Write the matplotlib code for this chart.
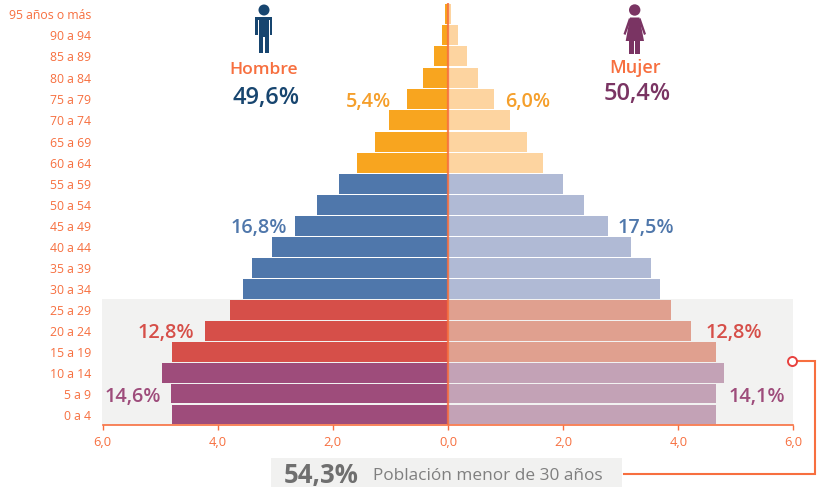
import matplotlib
matplotlib.use("Agg")
import matplotlib.pyplot as plt
from matplotlib.patches import Circle, Polygon, Rectangle

plt.rcParams['font.family'] = ['Open Sans', 'DejaVu Sans']

# ages from youngest to oldest
age_labels = ["0 a 4", "5 a 9", "10 a 14", "15 a 19", "20 a 24", "25 a 29", "30 a 34", "35 a 39",
              "40 a 44", "45 a 49", "50 a 54", "55 a 59", "60 a 64", "65 a 69", "70 a 74", "75 a 79",
              "80 a 84", "85 a 89", "90 a 94", "95 años o más"]
hombres = [4.79, 4.81, 4.97, 4.79, 4.22, 3.78, 3.56, 3.40, 3.06, 2.65,
           2.27, 1.90, 1.58, 1.27, 1.02, 0.71, 0.43, 0.24, 0.11, 0.05]
mujeres = [4.66, 4.66, 4.79, 4.66, 4.22, 3.88, 3.69, 3.53, 3.18, 2.78,
           2.37, 2.00, 1.65, 1.37, 1.08, 0.80, 0.52, 0.33, 0.17, 0.05]
x_ticks = [-6, -4, -2, 0, 2, 4, 6]
x_tick_labels = ["6,0", "4,0", "2,0", "0,0", "2,0", "4,0", "6,0"]

# colours per age group (bars in group, male colour, female colour)
grupos = [(3, "#9e4c7b", "#c3a2b6"), (3, "#d64f49", "#e0a08f"),
          (6, "#4f77ab", "#b0bad5"), (8, "#f8a51f", "#fdd4a0")]

ORANGE = "#f76f3f"
W, H = 820, 491

fig = plt.figure(figsize=(W / 100, H / 100), dpi=100)
ax = fig.add_axes([102.5 / W, 1 - 425 / H, 345.5 * 2 / W, 422 / H])

col_h, col_m = [], []
for n, c1, c2 in grupos:
    col_h += [c1] * n
    col_m += [c2] * n

# the top eight rows are a little taller in the original
pitch = [1.0] * 12 + [1.02] * 8
pos = []
y = 0
for p in pitch:
    pos.append(y + p / 2)
    y += p
alto = [p - 0.06 for p in pitch]

ax.axhspan(0, 6, color="#f2f2f1", lw=0, zorder=0)
ax.barh(pos, [-v for v in hombres], height=alto, color=col_h, zorder=2)
ax.barh(pos, mujeres, height=alto, color=col_m, zorder=2)
ax.axvline(0, color=ORANGE, lw=1.6, alpha=0.85, zorder=3)

ax.set_xlim(-6, 6)
ax.set_ylim(0, y)
ax.set_yticks(pos)
ax.set_yticklabels(age_labels)
ax.set_xticks(x_ticks)
ax.set_xticklabels(x_tick_labels)
ax.tick_params(axis="y", length=0, pad=8, labelsize=8.8, labelcolor=ORANGE)
ax.tick_params(axis="x", length=3.5, width=1, direction="out", color=ORANGE, pad=4.5, labelsize=9.3, labelcolor=ORANGE)
for name, sp in ax.spines.items():
    sp.set_visible(name == "bottom")
ax.spines["bottom"].set_color(ORANGE)
ax.spines["bottom"].set_linewidth(1.2)

# overlay in pixels for the annotations and the icons
ov = fig.add_axes([0, 0, 1, 1], zorder=5)
ov.set_xlim(0, W)
ov.set_ylim(H, 0)
ov.axis("off")

ov.text(264, 70, "Hombre", color=ORANGE, fontsize=12.6, fontweight="semibold", ha="center", va="center")
ov.text(266, 98, "49,6%", color="#17456f", fontsize=17, fontweight="semibold", ha="center", va="center")
ov.text(635, 68, "Mujer", color=ORANGE, fontsize=13, fontweight="semibold", ha="center", va="center")
ov.text(637, 94, "50,4%", color="#7a3463", fontsize=17, fontweight="semibold", ha="center", va="center")

etiquetas = [(369, 102, "5,4%", "#f59f2b"), (528, 102, "6,0%", "#f59f2b"),
             (259, 228, "16,8%", "#4f77ab"), (646, 228, "17,5%", "#4f77ab"),
             (166, 333, "12,8%", "#d64f49"), (734, 333, "12,8%", "#d64f49"),
             (133, 397, "14,6%", "#9e4c7b"), (757, 397, "14,1%", "#9e4c7b")]
for x, y_txt, s, c in etiquetas:
    ov.text(x, y_txt, s, color=c, fontsize=14.3, fontweight="semibold", ha="center", va="center")

# bottom box
ov.add_patch(Rectangle((271, 458), 351, 29, color="#f1f1f0", lw=0))
ov.text(321.5, 476, "54,3%", color="#6f6f6f", fontsize=18.5, fontweight="bold", ha="center", va="center")
ov.text(373, 476, "Población menor de 30 años", color="#7f7f7f", fontsize=12.4, ha="left", va="center")

# connector
ov.plot([796, 815, 815, 624], [361, 361, 474, 474], color=ORANGE, lw=1.5, zorder=4, solid_joinstyle="miter")
ov.plot([792], [361], marker="o", ms=6.5, mfc="white", mec="#e8423f", mew=1.4, zorder=5)

# man icon
MAN = "#17456f"
ov.add_patch(Circle((264, 10), 5.5, color=MAN, lw=0))
ov.add_patch(Rectangle((255.5, 17), 17, 3, color=MAN, lw=0))
ov.add_patch(Rectangle((255.5, 18), 2.8, 17, color=MAN, lw=0))
ov.add_patch(Rectangle((269.7, 18), 2.8, 17, color=MAN, lw=0))
ov.add_patch(Rectangle((259.2, 18), 9.6, 19, color=MAN, lw=0))
ov.add_patch(Rectangle((259.2, 36), 4.1, 17, color=MAN, lw=0))
ov.add_patch(Rectangle((264.7, 36), 4.1, 17, color=MAN, lw=0))

# woman icon
WOM = "#7a3463"
ov.add_patch(Circle((634.7, 10), 5.7, color=WOM, lw=0))
ov.add_patch(Polygon([(630, 17.5), (639.5, 17.5), (644, 41), (625.7, 41)], color=WOM, lw=0))
ov.add_patch(Polygon([(629, 18), (631, 20), (625.5, 35), (623.5, 34)], color=WOM, lw=0))
ov.add_patch(Polygon([(640.5, 18), (638.5, 20), (644, 35), (646, 34)], color=WOM, lw=0))
ov.add_patch(Rectangle((629.5, 41), 4.6, 13, color=WOM, lw=0))
ov.add_patch(Rectangle((635.2, 41), 4.6, 13, color=WOM, lw=0))

fig.savefig("out.png", dpi=100)
